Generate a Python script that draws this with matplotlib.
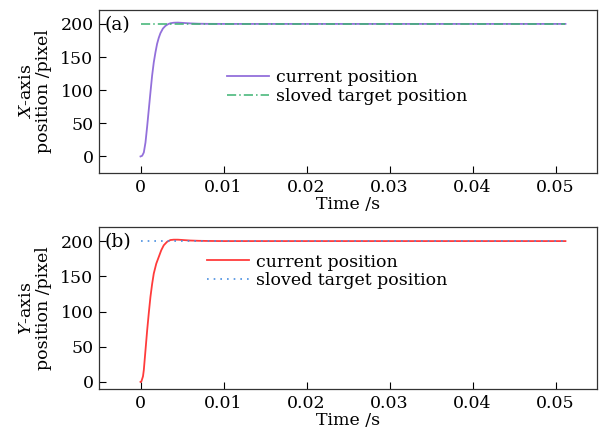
import matplotlib
matplotlib.use("Agg")
import matplotlib.pyplot as plt

plt.rcParams['font.family'] = ['DejaVu Serif']
plt.rcParams['mathtext.fontset'] = 'dejavuserif'

# Data
t_x = [0, 0.0002, 0.0004, 0.0006, 0.0008, 0.001, 0.0012, 0.0014, 0.0016, 0.0018,
       0.002, 0.0022, 0.0024, 0.0027, 0.003, 0.0033, 0.0036, 0.004, 0.0045, 0.005,
       0.006, 0.007, 0.008, 0.01, 0.02, 0.03, 0.04, 0.0512]
x_pos = [0, 1, 6, 21, 45, 71, 97, 122, 142, 157,
         170, 179, 186, 193, 197, 199.5, 201, 201.8, 202, 201.6,
         200.8, 200.3, 200.1, 200, 200, 200, 200, 200]
t_y = [0, 0.0001, 0.0003, 0.0004, 0.0006, 0.0008, 0.001, 0.0012, 0.0014, 0.0016,
       0.0019, 0.0022, 0.0025, 0.0028, 0.0032, 0.0036, 0.004, 0.0045, 0.005, 0.006,
       0.007, 0.008, 0.01, 0.02, 0.03, 0.04, 0.0512]
y_pos = [0, 0.5, 8, 17, 45, 73, 98, 121, 139, 154,
         168, 177.5, 187, 194, 199, 201.5, 202, 202, 201.6, 200.8,
         200.4, 200.2, 200, 200, 200, 200, 200]
t_target = [0, 0.0512]
target = [200, 200]

xticks = [0, 0.01, 0.02, 0.03, 0.04, 0.05]
xticklabels = ['0', '0.01', '0.02', '0.03', '0.04', '0.05']
yticks = [0, 50, 100, 150, 200]

W, H = 601, 437
fig = plt.figure(figsize=(W / 100, H / 100), dpi=100)

def make_ax(top, bottom):
    return fig.add_axes([99 / W, 1 - bottom / H, (597 - 99) / W, (bottom - top) / H])

ax1 = make_ax(10, 173)
ax2 = make_ax(227, 389)

fs = 12.5
for ax in (ax1, ax2):
    ax.set_xlim(-0.005, 0.055)
    ax.set_xticks(xticks)
    ax.set_xticklabels(xticklabels)
    ax.set_yticks(yticks)
    ax.tick_params(direction='in', length=5, width=0.8, labelsize=fs, top=False, right=False, pad=4)
    for s in ax.spines.values():
        s.set_linewidth(0.9)
        s.set_color('#333333')
    ax.set_xlabel('Time /s', fontsize=fs, labelpad=0)

ax1.set_ylim(-25, 221)
ax2.set_ylim(-10, 220)

ax1.plot(t_x, x_pos, color='#9370DB', lw=1.3, label='current position')
ax1.plot(t_target, target, color='#3CB371', lw=1.1, ls=(0, (6, 2, 1, 2)), label='sloved target position')
ax2.plot(t_y, y_pos, color='#FF3B3B', lw=1.3, label='current position')
ax2.plot(t_target, target, color='#4A8FE0', lw=1.2, ls=(0, (1, 3)), label='sloved target position')

ax1.text(0.012, 0.91, '(a)', transform=ax1.transAxes, fontsize=13.5, va='center', ha='left')
ax2.text(0.012, 0.91, '(b)', transform=ax2.transAxes, fontsize=13.5, va='center', ha='left')

ax1.legend(loc='upper left', bbox_to_anchor=(0.24, 0.69), frameon=False, fontsize=fs,
           handlelength=2.4, handletextpad=0.4, labelspacing=0.1, borderpad=0)
ax2.legend(loc='upper left', bbox_to_anchor=(0.20, 0.89), frameon=False, fontsize=fs,
           handlelength=2.4, handletextpad=0.4, labelspacing=0.1, borderpad=0)

ax1.set_ylabel('$X$-axis\nposition /pixel', fontsize=fs, labelpad=6, linespacing=1.0)
ax2.set_ylabel('$Y$-axis\nposition /pixel', fontsize=fs, labelpad=6, linespacing=1.0)

fig.savefig('out.png', dpi=100)
